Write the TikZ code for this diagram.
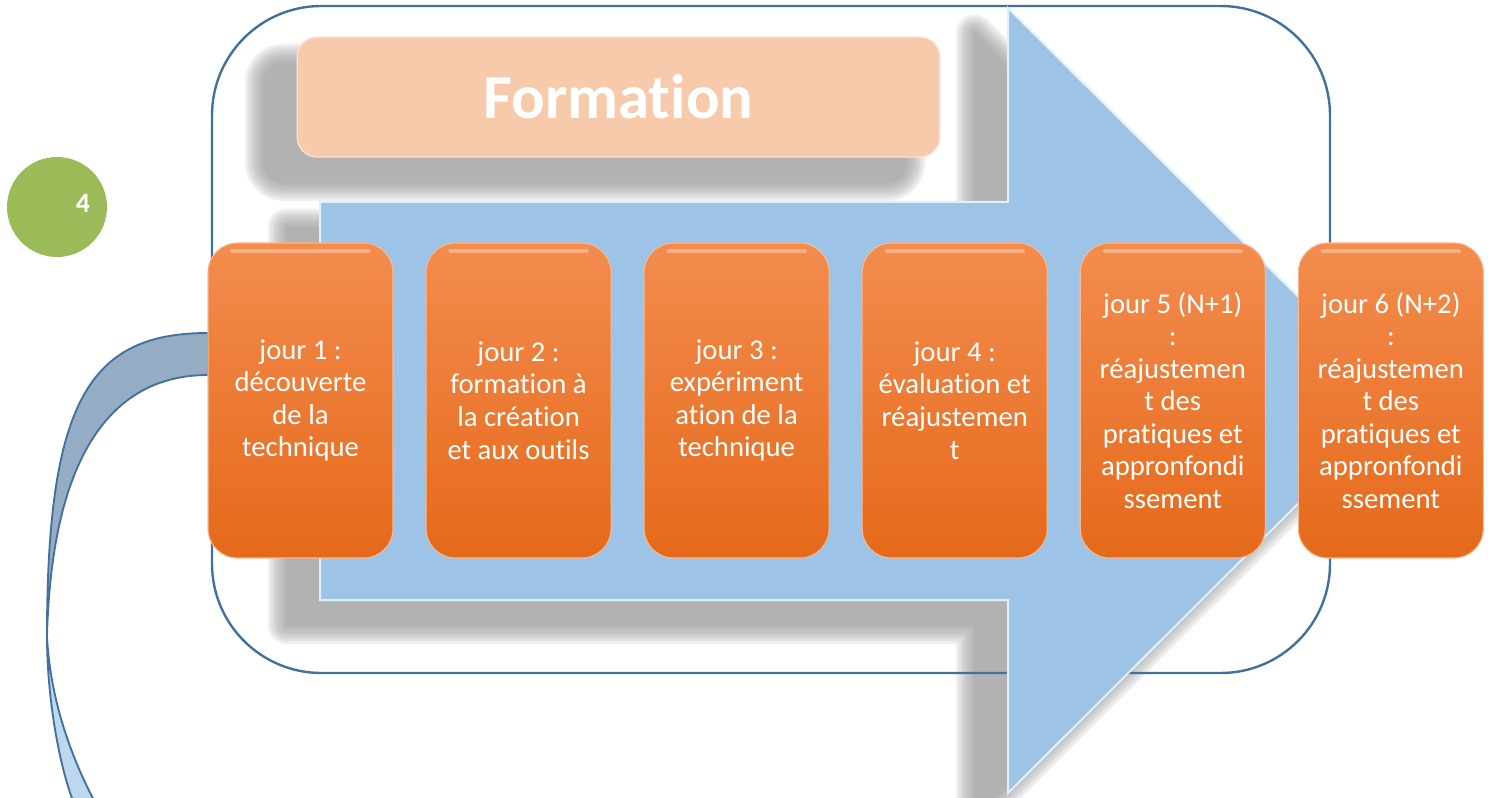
\documentclass[tikz,border=0pt]{standalone}
\usepackage{fontspec}
\setmainfont{Carlito}[Ligatures=NoCommon]
\usetikzlibrary{positioning}

\definecolor{rimblue}{HTML}{41719C}
\definecolor{shaftblue}{HTML}{9DC3E6}
\definecolor{bevel}{HTML}{DDF1FF}
\definecolor{peach}{HTML}{F6CAAB}
\definecolor{daytop}{HTML}{F38C4E}
\definecolor{daybottom}{HTML}{E5691A}
\definecolor{loopback}{HTML}{94ADC4}
\definecolor{loopfront}{HTML}{BDD7EE}
\definecolor{stepgreen}{HTML}{9BBB59}
\definecolor{shadowgray}{gray}{0.58}

\begin{document}
\begin{tikzpicture}[x=0.75pt,y=-0.75pt,
  daybox/.style={rectangle, rounded corners=22pt, top color=daytop, bottom color=daybottom,
    draw=daytop!60!white, line width=.8pt, text=white, align=center,
    minimum width=138.75pt, minimum height=236.25pt, inner sep=0pt,
    font=\fontsize{21.5}{24.4}\selectfont,
    path picture={\draw[white, opacity=.3, line width=2.5pt, line cap=round]
      ([xshift=18pt,yshift=-6pt]path picture bounding box.north west) --
      ([xshift=-18pt,yshift=-6pt]path picture bounding box.north east);}},
  titlebox/.style={rectangle, rounded corners=15pt, fill=peach, draw=peach!50!white,
    line width=1pt, text=white, minimum width=482pt, minimum height=90pt,
    font=\bfseries\fontsize{47}{50}\selectfont},
  loopline/.style={draw=rimblue, line width=1.4pt}]
\def\bigarrow{(320,202) -- (1008,202) -- (1008,8) -- (1402,400) -- (1008,793) -- (1008,600) -- (320,600) -- cycle}
\def\titlerect{(297,37) rectangle (940,157)}

\useasboundingbox (0,0) rectangle (1488,798);
\clip (0,0) rectangle (1488,798);

% soft shadow
\foreach \w in {28,24,...,0}{
  \begin{scope}[transparency group, opacity=.15, xshift=-25pt, yshift=-19pt]
    \filldraw[shadowgray, line width=\w pt, line join=round, rounded corners=15pt] \titlerect;
    \filldraw[shadowgray, line width=\w pt, line join=round] \bigarrow;
  \end{scope}}

\draw[rimblue, line width=1.8pt, rounded corners=82pt] (212,6) rectangle (1330,673);
\filldraw[fill=shaftblue, draw=bevel, line width=1.5pt] \bigarrow;

\node[titlebox] (title) at (618.5,97) {Formation};

% curved arrow
\filldraw[fill=loopback, loopline] (208,333) .. controls (90,333) and (47,400) .. (47,636)
  .. controls (52,450) and (115,375) .. (208,375) -- cycle;
\filldraw[fill=loopfront, loopline] (47,636) .. controls (47,700) and (60,770) .. (75,806)
  -- (97,806) .. controls (72,760) and (50,700) .. (47,636) -- cycle;

\node[daybox] (d1) at (300.5,400.5) {jour 1 :\\découverte\\de la\\technique};
\node[daybox, right=24pt of d1] (d2) {jour 2 :\\formation à\\la création\\et aux outils};
\node[daybox, right=24pt of d2] (d3) {jour 3 :\\expériment\\ation de la\\technique};
\node[daybox, right=24pt of d3] (d4) {jour 4 :\\évaluation et\\réajustemen\\t};
\node[daybox, right=24pt of d4] (d5) {jour 5 (N+1)\\:\\réajustemen\\t des\\pratiques et\\appronfondi\\ssement};
\node[daybox, right=24pt of d5] (d6) {jour 6 (N+2)\\:\\réajustemen\\t des\\pratiques et\\appronfondi\\ssement};

\node[circle, fill=stepgreen, minimum size=75pt, inner sep=0pt,
  label={[text=white, font=\bfseries\fontsize{21}{21}\selectfont, xshift=19.5pt, yshift=3pt]center:4}]
  (step4) at (57,207) {};

\end{tikzpicture}
\end{document}
